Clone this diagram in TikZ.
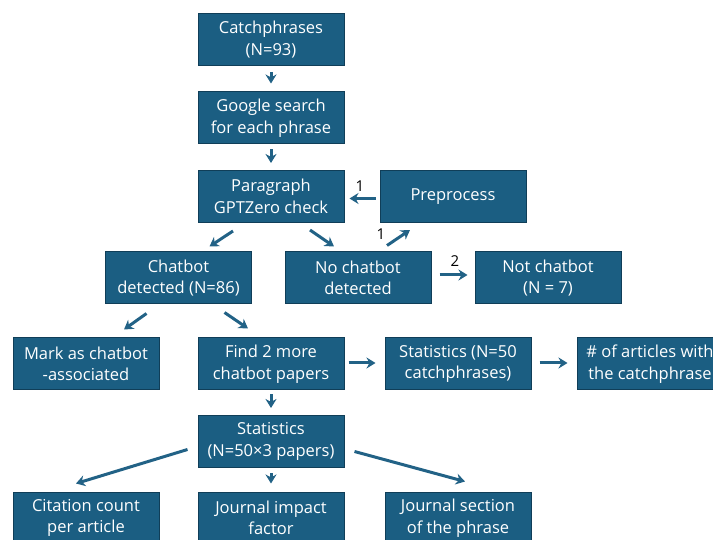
\documentclass[tikz,border=0pt]{standalone}
\usepackage{fontspec}
\setmainfont{Open Sans}
\usetikzlibrary{arrows.meta}
\begin{document}
\begin{tikzpicture}[x=1pt, y=-1pt,
        box/.style={rectangle, draw=boxline, fill=boxfill, line width=1pt,
          minimum width=146pt, minimum height=52pt, inner sep=1pt,
          align=center, text=white, font=\fontsize{16.5}{21.5}\selectfont},
        arrow/.style={-{Stealth[length=9pt,width=11pt]}, draw=arrowc, line width=3pt},
        num/.style={font=\fontsize{15}{17}\selectfont, text=black}
      ]
      \definecolor{boxfill}{RGB}{27,94,130}
      \definecolor{boxline}{RGB}{16,62,88}
      \definecolor{arrowc}{RGB}{34,98,134}
      \useasboundingbox (0,0) rectangle (713,540);
      % top column
      \node[box] (catch)  at (271,39.5)  {Catchphrases\\(N=93)};
      \node[box] (google) at (271,118) {Google search\\for each phrase};
      \node[box] (para)   at (271,196.5) {Paragraph\\GPTZero check};
      \node[box] (prep)   at (453,196.5) {Preprocess};
      % detection row
      \node[box] (chat)    at (178.5,278) {Chatbot\\detected (N=86)};
      \node[box] (nochat)  at (358,278) {No chatbot\\detected};
      \node[box] (notchat) at (548,278) {Not chatbot\\(N = 7)};
      % papers row
      \node[box] (mark)     at (86,364)  {Mark as chatbot\\-associated};
      \node[box] (find)     at (271,364) {Find 2 more\\chatbot papers};
      \node[box] (stats50)  at (458,364) {Statistics (N=50\\catchphrases)};
      \node[box] (articles) at (650,364) {\# of articles with\\the catchphrase};
      % statistics
      \node[box] (stats150) at (271,441.5) {Statistics\\(N=50×3 papers)};
      \node[box] (cite)   at (86,518)  {Citation count\\per article};
      \node[box] (impact) at (271,518) {Journal impact\\factor};
      \node[box] (sect)   at (458,518) {Journal section\\of the phrase};
      % connectors
      \draw[arrow] ([yshift=-6pt]catch.south) -- ([yshift=8pt]google.north);
      \draw[arrow] ([yshift=-5pt]google.south) -- ([yshift=7pt]para.north);
      \draw[arrow] ([xshift=-4pt,yshift=-2pt]prep.west) -- ([xshift=5pt,yshift=-2pt]para.east);
      \node[num] (n1) at (360,186) {1};
      \draw[arrow] ([xshift=-38pt,yshift=-8pt]para.south) -- ([xshift=31pt,yshift=5pt]chat.north);
      \draw[arrow] ([xshift=39pt,yshift=-7pt]para.south) -- ([xshift=-24pt,yshift=5pt]nochat.north);
      \draw[arrow] ([xshift=29pt,yshift=6pt]nochat.north) -- ([xshift=-43pt,yshift=-7pt]prep.south);
      \node[num] (n2) at (381,234) {1};
      \draw[arrow] ([xshift=8pt,yshift=3pt]nochat.east) -- ([xshift=-7pt,yshift=3pt]notchat.west);
      \node[num] (n3) at (455,261) {2};
      \draw[arrow] ([xshift=-32pt,yshift=-9pt]chat.south) -- ([xshift=38pt,yshift=8pt]mark.north);
      \draw[arrow] ([xshift=46pt,yshift=-8pt]chat.south) -- ([xshift=-23pt,yshift=9pt]find.north);
      \draw[arrow] ([xshift=4pt,yshift=1pt]find.east) -- ([xshift=-9pt,yshift=1pt]stats50.west);
      \draw[arrow] ([xshift=8pt,yshift=1pt]stats50.east) -- ([xshift=-9pt,yshift=1pt]articles.west);
      \draw[arrow] ([yshift=-4pt]find.south) -- ([yshift=7pt]stats150.north);
      \draw[arrow] ([xshift=-10pt,yshift=-8pt]stats150.west) -- ([xshift=-10pt,yshift=8pt]cite.north);
      \draw[arrow] ([yshift=-5pt]stats150.south) -- ([yshift=8pt]impact.north);
      \draw[arrow] ([xshift=10pt,yshift=-10pt]stats150.east) -- ([xshift=7pt,yshift=10pt]sect.north);
    \end{tikzpicture}
\end{document}
